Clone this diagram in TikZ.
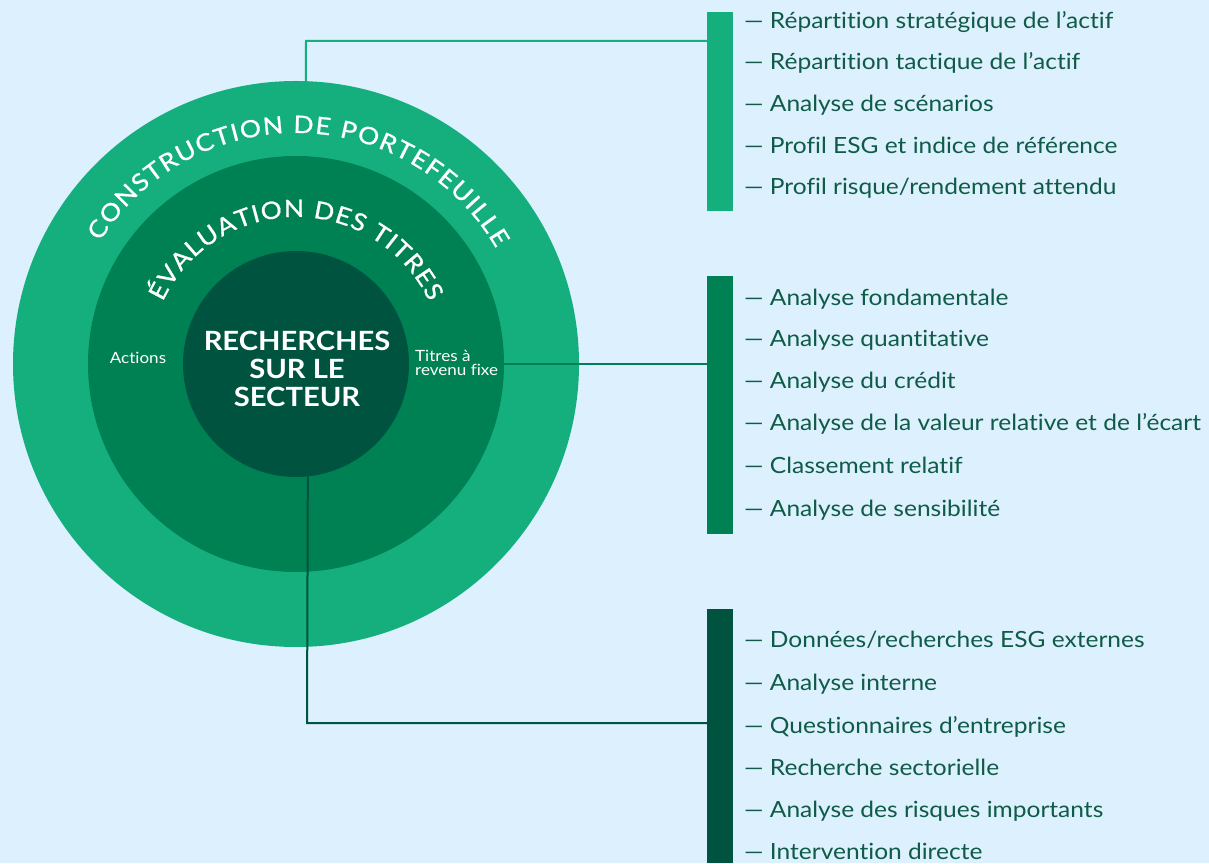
\documentclass[tikz,border=0pt]{standalone}
\usepackage{fontspec}
\setmainfont{Lato}[FakeStretch=1.1,Ligatures=NoCommon]
\newfontfamily\anneaufont{Lato}[FakeStretch=1.1,FakeBold=0.8,Ligatures=NoCommon]
\usetikzlibrary{decorations.text}
\definecolor{fond}{HTML}{DCF1FD}
\definecolor{clair}{HTML}{14AF7D}
\definecolor{moyen}{HTML}{008153}
\definecolor{fonce}{HTML}{00533F}
\definecolor{texte}{HTML}{0F5B47}
\newcommand{\anneau}{\anneaufont\fontsize{24}{24}\selectfont}

\begin{document}
\begin{tikzpicture}[x=1pt,y=1pt]
%environnement
\tikzstyle{disque}=[circle,inner sep=0]
\tikzstyle{barre}=[rectangle,inner sep=0,minimum width=26pt]
\tikzstyle{item}=[anchor=base west,inner sep=0,text=texte,font=\fontsize{22.3}{26}\selectfont]
\tikzstyle{lien}=[line width=2pt]
\fill[fond] (0,0) rectangle (1209,863);
\useasboundingbox (0,0) rectangle (1209,863);

%les cercles
\node[disque,fill=clair,minimum size=566pt] (portef) at (296,499) {};
\node[disque,fill=moyen,minimum size=416pt] (eval) at (296,499) {};
\node[disque,fill=fonce,minimum size=226pt] (secteur) at (296,499) {};

\path[decorate,decoration={text along path,text align=fit to path,text color=white,
      text={|\anneau|CONSTRUCTION DE PORTEFEUILLE}}]
      (portef.center) ++(148:231) arc[start angle=148,end angle=30,radius=231];
\path[decorate,decoration={text along path,text align=fit to path,text color=white,
      text={|\anneau|ÉVALUATION DES TITRES}}]
      (eval.center) ++(155:147) arc[start angle=155,end angle=25,radius=147];

\node[align=center,inner sep=0,text=white,font=\bfseries\fontsize{26.5}{28}\selectfont]
      (rech) at (297,494) {RECHERCHES\\SUR LE\\SECTEUR};
\node[anchor=base,inner sep=0,text=white,font=\fontsize{15.5}{15.5}\selectfont]
      (actions) at (138,499) {Actions};
\node[anchor=west,align=left,inner sep=0,text=white,font=\fontsize{15.5}{14.5}\selectfont]
      (titres) at (415,500) {Titres à\\revenu fixe};

%les barres
\node[barre,fill=clair,minimum height=199pt] (barA) at (720,751.5) {};
\node[barre,fill=moyen,minimum height=258pt] (barB) at (720,458) {};
\node[barre,fill=fonce,minimum height=254pt] (barC) at (720,127) {};

%les liens
\coordinate (haut) at (306,822);
\coordinate (bas) at (307,140);
\draw[lien,clair] (portef.88) -- (haut) -- (haut -| barA.west);
\draw[lien,moyen] (eval.east) -- (eval.east -| barB.west);
\draw[lien,fonce] (secteur.-84) -- (bas) -- (bas -| barC.west);

%construction de portefeuille
\node[item] (strat) at (744,834) {— Répartition stratégique de l’actif};
\node[item] (tact) at (744,793) {— Répartition tactique de l’actif};
\node[item] (scen) at (744,751) {— Analyse de scénarios};
\node[item] (esg) at (744,709) {— Profil ESG et indice de référence};
\node[item] (risque) at (744,668) {— Profil risque/rendement attendu};

%evaluation des titres
\node[item] (fond) at (744,557) {— Analyse fondamentale};
\node[item] (quant) at (744,516) {— Analyse quantitative};
\node[item] (credit) at (744,474) {— Analyse du crédit};
\node[item] (valeur) at (744,432) {— Analyse de la valeur relative et de l’écart};
\node[item] (classe) at (744,390) {— Classement relatif};
\node[item] (sensi) at (744,347) {— Analyse de sensibilité};

%recherches sur le secteur
\node[item] (donnees) at (744,216) {— Données/recherches ESG externes};
\node[item] (interne) at (744,173) {— Analyse interne};
\node[item] (quest) at (744,130) {— Questionnaires d’entreprise};
\node[item] (sect) at (744,88) {— Recherche sectorielle};
\node[item] (risques) at (744,46) {— Analyse des risques importants};
\node[item] (direct) at (744,4) {— Intervention directe};

\end{tikzpicture}
\end{document}
